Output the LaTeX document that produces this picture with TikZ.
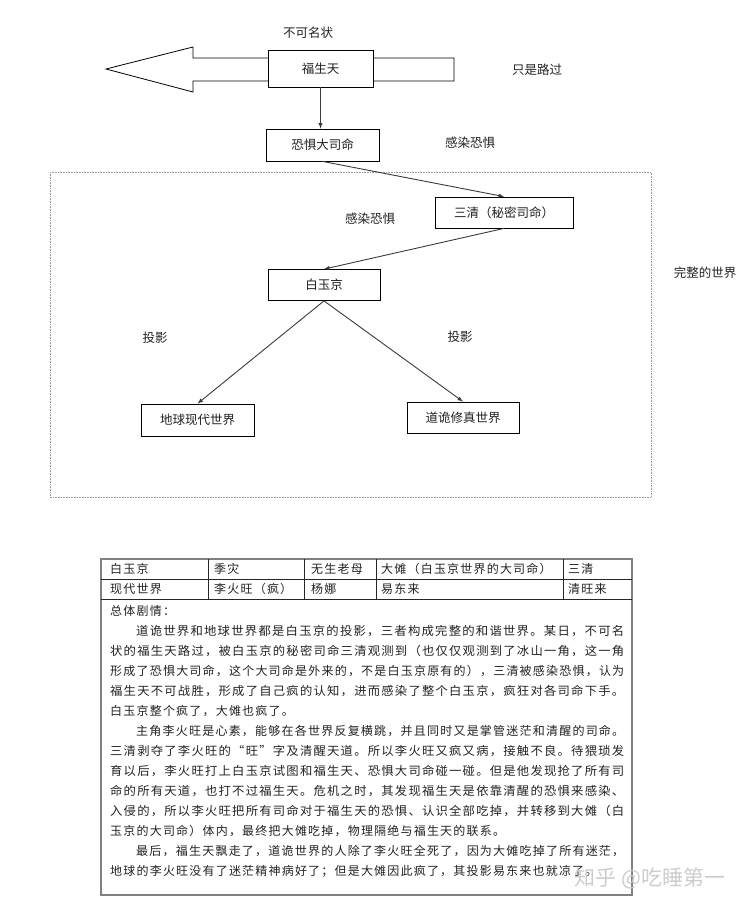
\documentclass[tikz,border=0pt]{standalone}
\usepackage{fontspec}
\usepackage{graphicx}
\setmainfont{Noto Sans CJK SC}
\newfontfamily\bodyfont[LetterSpace=10]{Noto Sans CJK SC}
\newcommand{\fullline}[1]{\resizebox{514pt}{\height}{#1}}
\newcommand{\indline}[1]{\resizebox{488pt}{\height}{#1}}
\definecolor{txt}{HTML}{222222}
\definecolor{lnk}{HTML}{3A3A3A}

\begin{document}
\begin{tikzpicture}[x=1pt,y=-1pt,
	box/.style={draw=black,line width=0.8pt,fill=white,inner sep=0pt,text=txt,font=\fontsize{12.5}{14}\selectfont},
	lbl/.style={text=txt,font=\fontsize{12.5}{14}\selectfont},
	link/.style={-latex,draw=lnk,line width=0.9pt},
	cell/.style={anchor=west,inner sep=0pt,text=txt,font=\bodyfont\fontsize{12}{14}\selectfont}]
	\useasboundingbox (0,0) rectangle (750,912);
	%the world frame
	\draw[gray!80,dash pattern=on 0.8pt off 0.8pt,line width=0.9pt] (50,172) rectangle (651,497);
	%big arrow going left
	\draw[line width=0.8pt,fill=white] (106,69) -- (193,47) -- (193,58) -- (454,58) -- (454,81) -- (193,81) -- (193,92) -- cycle;
	\node[box,minimum width=105pt,minimum height=37pt] (fst) at (320.5,68.5) {福生天};
	\node[box,minimum width=113pt,minimum height=32pt] (kj) at (322.5,145) {恐惧大司命};
	\node[box,minimum width=138pt,minimum height=31pt] (sq) at (504,212.5) {三清（秘密司命）};
	\node[box,minimum width=112pt,minimum height=31pt] (byj) at (324,285) {白玉京};
	\node[box,minimum width=113pt,minimum height=32pt] (dq) at (197.5,420) {地球现代世界};
	\node[box,minimum width=112pt,minimum height=31pt] (dg) at (463,417.5) {道诡修真世界};
	\node[lbl] (bkmz) at (308,33) {不可名状};
	\node[lbl] (zslg) at (537,70) {只是路过};
	\node[lbl] (grkj1) at (470,143) {感染恐惧};
	\node[lbl] (grkj2) at (370,219) {感染恐惧};
	\node[lbl] (wzsj) at (705,273) {完整的世界};
	\node[lbl] (ty1) at (155,338) {投影};
	\node[lbl] (ty2) at (460,337) {投影};
	\draw[link] (fst.south) -- (fst.south |- kj.north);
	\draw[link] (kj.south) -- (sq.north);
	\draw[link] (sq.south) -- (byj.north);
	\draw[link] (byj.south) -- (dq.north);
	\draw[link] (byj.south) -- (dg.north);
	%table
	\draw[gray,line width=1.3pt] (101,559) rectangle (632,895);
	\draw[black!85,line width=0.6pt] (101,579) -- (632,579) (101,599) -- (632,599);
	\foreach \x in {208,304,376,563}
		\draw[black!85,line width=0.6pt] (\x,559) -- (\x,599);
	\node[cell] (c11) at (110,569) {白玉京};
	\node[cell] (c12) at (214,569) {季灾};
	\node[cell] (c13) at (311,569) {无生老母};
	\node[cell] (c14) at (381,569) {大傩（白玉京世界的大司命）};
	\node[cell] (c15) at (568,569) {三清};
	\node[cell] (c21) at (110,589) {现代世界};
	\node[cell] (c22) at (214,589) {李火旺（疯）};
	\node[cell] (c23) at (311,589) {杨娜};
	\node[cell] (c24) at (381,589) {易东来};
	\node[cell] (c25) at (568,589) {清旺来};
	%plot text
	\node[cell] (l1) at (110,611) {总体剧情：};
	\node[cell] (l2) at (136,631) {\indline{道诡世界和地球世界都是白玉京的投影，三者构成完整的和谐世界。某日，不可名}};
	\node[cell] (l3) at (110,651) {\fullline{状的福生天路过，被白玉京的秘密司命三清观测到（也仅仅观测到了冰山一角，这一角}};
	\node[cell] (l4) at (110,671) {\fullline{形成了恐惧大司命，这个大司命是外来的，不是白玉京原有的），三清被感染恐惧，认为}};
	\node[cell] (l5) at (110,691) {\fullline{福生天不可战胜，形成了自己疯的认知，进而感染了整个白玉京，疯狂对各司命下手。}};
	\node[cell] (l6) at (110,711) {白玉京整个疯了，大傩也疯了。};
	\node[cell] (l7) at (136,731) {\indline{主角李火旺是心素，能够在各世界反复横跳，并且同时又是掌管迷茫和清醒的司命。}};
	\node[cell] (l8) at (110,751) {\fullline{三清剥夺了李火旺的“旺”字及清醒天道。所以李火旺又疯又病，接触不良。待猥琐发}};
	\node[cell] (l9) at (110,771) {\fullline{育以后，李火旺打上白玉京试图和福生天、恐惧大司命碰一碰。但是他发现抢了所有司}};
	\node[cell] (l10) at (110,791) {\fullline{命的所有天道，也打不过福生天。危机之时，其发现福生天是依靠清醒的恐惧来感染、}};
	\node[cell] (l11) at (110,811) {\fullline{入侵的，所以李火旺把所有司命对于福生天的恐惧、认识全部吃掉，并转移到大傩（白}};
	\node[cell] (l12) at (110,831) {玉京的大司命）体内，最终把大傩吃掉，物理隔绝与福生天的联系。};
	\node[cell] (l13) at (136,851) {\indline{最后，福生天飘走了，道诡世界的人除了李火旺全死了，因为大傩吃掉了所有迷茫，}};
	\node[cell] (l14) at (110,871) {地球的李火旺没有了迷茫精神病好了；但是大傩因此疯了，其投影易东来也就凉了。};
	%watermark
	\node[text=gray!40,font=\fontsize{21}{21}\selectfont] (wm) at (650,878) {知乎 @吃睡第一};
\end{tikzpicture}
\end{document}
